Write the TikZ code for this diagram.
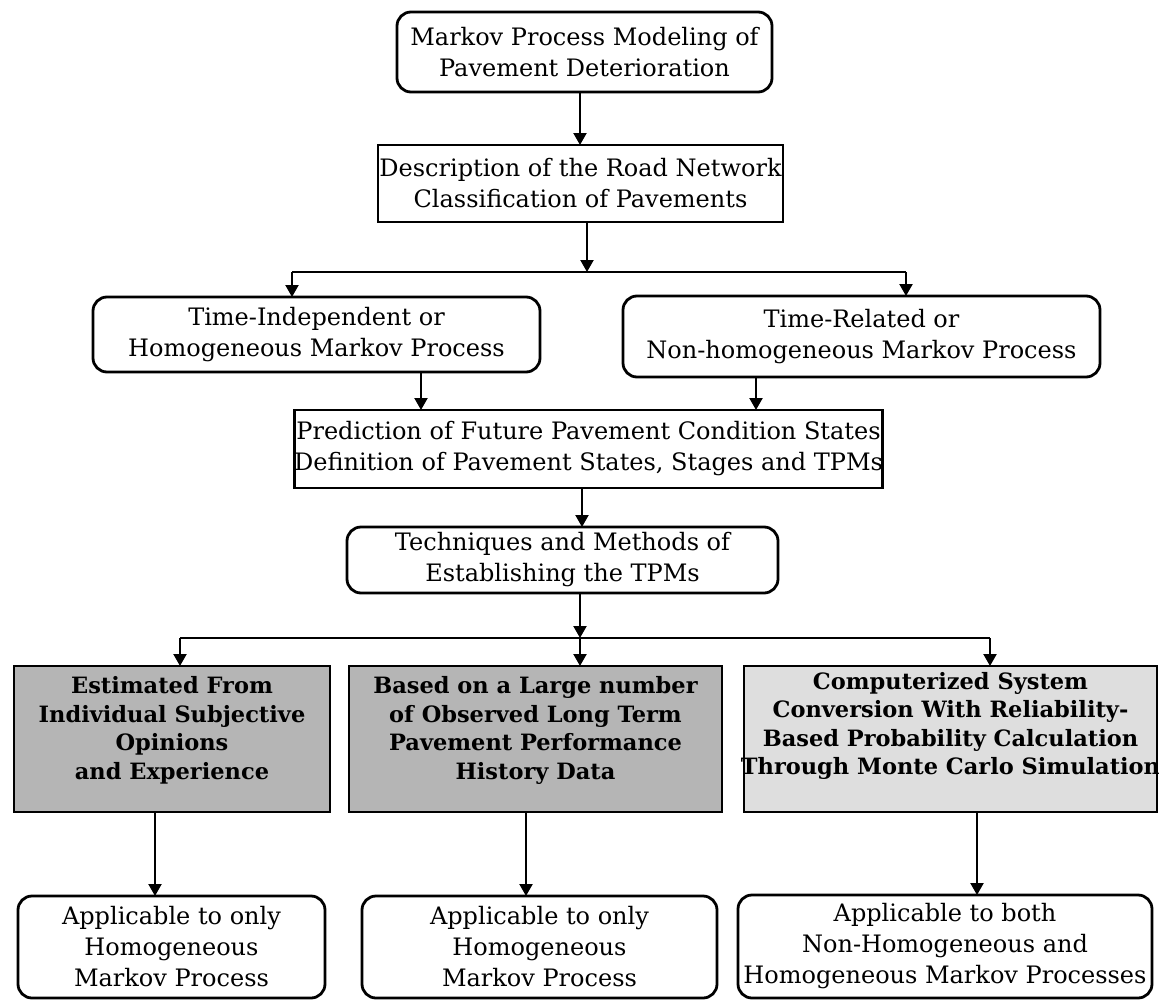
\documentclass[tikz,border=0pt]{standalone}
\usepackage{fontspec}
\setmainfont{DejaVu Serif}
\usetikzlibrary{arrows.meta}
\begin{document}
\begin{tikzpicture}[x=1pt,y=-1pt,
  every node/.style={inner sep=0pt, outer sep=0pt},
  framed/.style={draw, line width=2.8pt, font=\fontsize{24}{31}\selectfont, align=center},
  roundbox/.style={framed, rounded corners=14pt},
  squarebox/.style={framed},
  shadebox/.style={draw, line width=2.8pt, fill=black!29},
  lightbox/.style={draw, line width=2.8pt, fill=black!13},
  boldtext/.style={font=\bfseries\fontsize{22.5}{28.5}\selectfont, align=center},
  link/.style={line width=2.2pt},
  arr/.style={link, -{Triangle[length=12pt,width=13pt]}},
]
\useasboundingbox (0,0) rectangle (1159,1001);

% upper chain
\node[roundbox, minimum width=375, minimum height=80] (b1) at (584.5,52)
  {Markov Process Modeling of\\Pavement Deterioration};
\node[squarebox, minimum width=405, minimum height=77] (b2) at (580.5,183.5)
  {Description of the Road Network\\Classification of Pavements};
\node[roundbox, minimum width=447, minimum height=75] (b3) at (316.5,334.5)
  {Time-Independent or\\Homogeneous Markov Process};
\node[roundbox, minimum width=477, minimum height=81] (b4) at (861.5,336.5)
  {Time-Related or\\Non-homogeneous Markov Process};
\node[squarebox, minimum width=583, minimum height=78] (b5) at (588.5,449)
  {Prediction of Future Pavement Condition States\\Definition of Pavement States, Stages and TPMs};
\node[roundbox, minimum width=431, minimum height=66] (b6) at (562.5,560)
  {Techniques and Methods of\\Establishing the TPMs};

% three estimation methods
\node[shadebox, minimum width=316, minimum height=146] (b7) at (172,739) {};
\node[boldtext] (t7) at (172,730.5)
  {Estimated From\\Individual Subjective\\Opinions\\and Experience};
\node[shadebox, minimum width=373, minimum height=146] (b8) at (535.5,739) {};
\node[boldtext] (t8) at (535.5,730.5)
  {Based on a Large number\\of Observed Long Term\\Pavement Performance\\History Data};
\node[lightbox, minimum width=413, minimum height=146] (b9) at (950.5,739) {};
\node[boldtext] (t9) at (950.5,726)
  {Computerized System\\Conversion With Reliability-\\Based Probability Calculation\\Through Monte Carlo Simulation};

% applicability
\node[roundbox, minimum width=307, minimum height=102] (b10) at (171.5,947)
  {Applicable to only\\Homogeneous\\Markov Process};
\node[roundbox, minimum width=355, minimum height=102] (b11) at (539.5,947)
  {Applicable to only\\Homogeneous\\Markov Process};
\node[roundbox, minimum width=414, minimum height=103] (b12) at (945,946.5)
  {Applicable to both\\Non-Homogeneous and\\Homogeneous Markov Processes};

% junction points
\coordinate (j1) at (587,272);
\coordinate (j1l) at (292,272);
\coordinate (j1r) at (906,272);
\coordinate (j2) at (580,638);
\coordinate (j2l) at (180,638);
\coordinate (j2r) at (990,638);

% connectors
\draw[arr] (b1.south -| 580,0) -- (b2.north -| 580,0);
\draw[arr] (b2.south -| j1) -- (j1);
\draw[link] (j1l) -- (j1r);
\draw[arr] (j1l) -- (b3.north -| j1l);
\draw[arr] (j1r) -- (b4.north -| j1r);
\draw[arr] (b3.south -| 421,0) -- (b5.north -| 421,0);
\draw[arr] (b4.south -| 756,0) -- (b5.north -| 756,0);
\draw[arr] (b5.south -| 582,0) -- (b6.north -| 582,0);
\draw[arr] (b6.south -| j2) -- (j2);
\draw[link] (j2l) -- (j2r);
\draw[arr] (j2l) -- (b7.north -| j2l);
\draw[arr] (j2) -- (b8.north -| j2);
\draw[arr] (j2r) -- (b9.north -| j2r);
\draw[arr] (b7.south -| 155,0) -- (b10.north -| 155,0);
\draw[arr] (b8.south -| 526,0) -- (b11.north -| 526,0);
\draw[arr] (b9.south -| 977,0) -- (b12.north -| 977,0);
\end{tikzpicture}
\end{document}
